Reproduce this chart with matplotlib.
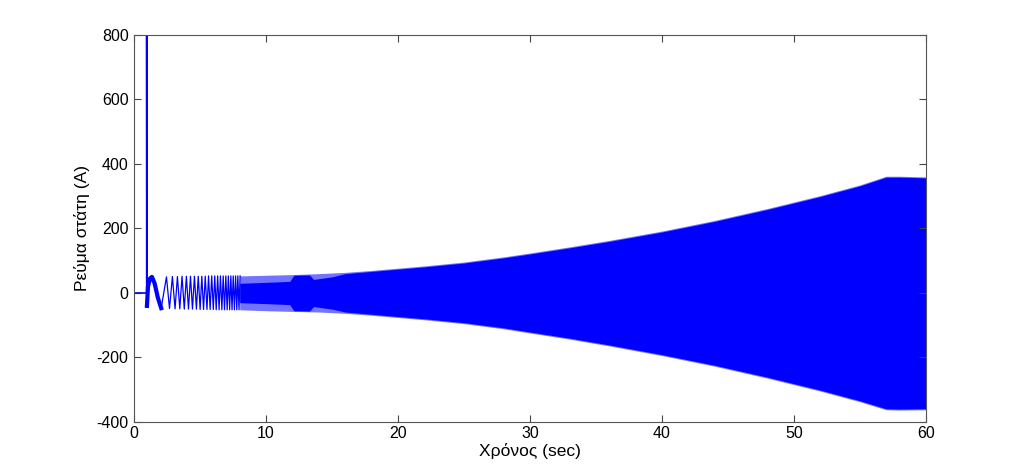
import matplotlib
matplotlib.use("Agg")
import matplotlib.pyplot as plt

# Start of the signal: flat at zero, switching spike, first slow swing
pre_t = [0.0, 0.95, 0.95, 0.97]
pre_i = [0.0, 0.0, 820.0, -40.0]

bump_t = [0.97, 1.05, 1.2, 1.35, 1.55, 1.8, 2.05]
bump_i = [-40.0, 20.0, 45.0, 50.0, 30.0, -15.0, -47.0]

# Early oscillation extrema (peaks / troughs)
osc_t = [2.05, 2.45, 2.68, 2.90, 3.10, 3.28, 3.46, 3.63, 3.80, 3.96, 4.12,
         4.27, 4.42, 4.57, 4.72, 4.86, 5.00, 5.13, 5.26, 5.39, 5.52, 5.64,
         5.76, 5.88, 6.00, 6.11, 6.22, 6.33, 6.44, 6.54, 6.65, 6.75, 6.85,
         6.95, 7.05, 7.14, 7.24, 7.33, 7.42, 7.51, 7.60, 7.69, 7.78, 7.86,
         7.95, 8.03]
osc_i = [-47, 50, -48, 51, -49, 51, -49, 52, -50, 52, -50, 52, -50, 52, -50,
         52, -51, 52, -51, 52, -51, 53, -51, 53, -51, 53, -52, 53, -52, 53,
         -52, 53, -52, 53, -52, 53, -52, 53, -52, 53, -52, 53, -52, 53, -52,
         53]

# Outer envelope of the dense part (light band)
env_t = [8.0, 10, 12, 14, 16, 18, 20, 22, 25, 28, 30, 33, 36, 40, 44, 48,
         52, 55, 57, 58, 60]
env_hi = [53, 55, 57, 60, 64, 70, 77, 84, 96, 112, 124, 143, 163, 192, 225,
          262, 302, 335, 362, 362, 360]
env_lo = [-52, -55, -57, -59, -63, -69, -76, -83, -95, -111, -124, -143,
          -164, -194, -227, -264, -304, -337, -362, -363, -362]

# Dark core of the dense part
core_t = [8.0, 10, 11.8, 12.1, 13.3, 13.6, 15, 16, 18, 20, 22, 25, 28, 30,
          33, 36, 40, 44, 48, 52, 55, 57, 58, 60]
core_hi = [30, 33, 36, 55, 56, 42, 50, 60, 67, 74, 81, 93, 109, 121, 140,
           160, 189, 222, 259, 299, 332, 359, 359, 357]
core_lo = [-30, -33, -36, -55, -56, -42, -50, -59, -66, -73, -80, -92, -108,
           -121, -140, -161, -191, -224, -261, -301, -334, -359, -360, -359]

blue = "#0000ff"
light = "#7373ff"

plt.rcParams["font.family"] = ["Liberation Sans", "DejaVu Sans"]
plt.rcParams["axes.unicode_minus"] = False

fig = plt.figure(figsize=(10.24, 4.74), dpi=100)
ax = fig.add_axes([0.131, 0.1097, 0.773, 0.8165])

ax.plot(pre_t, pre_i, color=blue, lw=1.2)
ax.plot(bump_t, bump_i, color=blue, lw=3.0)
ax.plot(osc_t, osc_i, color=blue, lw=0.9)
ax.fill_between(env_t, env_lo, env_hi, color=light, lw=0)
ax.fill_between(core_t, core_lo, core_hi, color=blue, lw=0)

ax.set_xlim(0, 60)
ax.set_ylim(-400, 800)
ax.set_xticks(range(0, 61, 10))
ax.set_yticks(range(-400, 801, 200))
ax.tick_params(direction="in", top=True, right=True, labelsize=11.5,
               length=5, color="#444444")
ax.tick_params(axis="x", pad=3)
ax.tick_params(axis="y", pad=4)
for s in ax.spines.values():
    s.set_color("#555555")
    s.set_linewidth(0.8)

ax.set_xlabel("Χρόνος (sec)", fontsize=12.5)
ax.set_ylabel("Ρεύμα στάτη (A)", fontsize=12.5)
ax.xaxis.set_label_coords(0.5, -0.055)
ax.yaxis.set_label_coords(-0.056, 0.5)

fig.savefig("out.png", dpi=100)
